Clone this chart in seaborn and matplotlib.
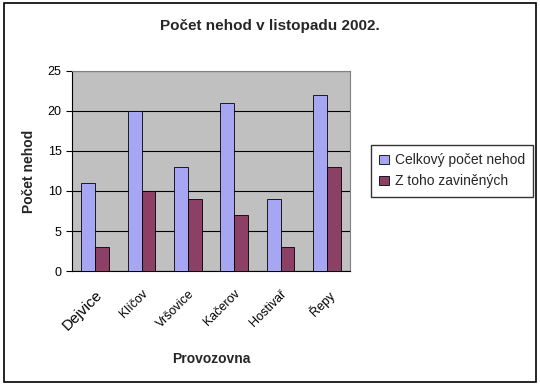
import matplotlib
matplotlib.use('Agg')
import matplotlib.pyplot as plt
import pandas as pd
import seaborn as sns
from matplotlib.patches import Rectangle

# data
provozovny = ['Dejvice', 'Klíčov', 'Vršovice', 'Kačerov', 'Hostivař', 'Řepy']
celkem = [11, 20, 13, 21, 9, 22]
zavinenych = [3, 10, 9, 7, 3, 13]
serie = ['Celkový počet nehod', 'Z toho zaviněných']

df = pd.DataFrame({
    'Provozovna': provozovny * 2,
    'Počet': celkem + zavinenych,
    'Série': [serie[0]] * 6 + [serie[1]] * 6,
})

sns.set_style('white')
plt.rcParams['font.family'] = ['Liberation Sans', 'DejaVu Sans']

fig = plt.figure(figsize=(5.4, 3.85), dpi=100)
fig.patches.append(Rectangle((0.008, 0.008), 0.984, 0.984, transform=fig.transFigure,
                             fill=False, edgecolor='black', linewidth=1.2))
ax = fig.add_axes([0.1333, 0.296, 0.515, 0.52])
ax.set_facecolor('#C0C0C0')

sns.barplot(data=df, x='Provozovna', y='Počet', hue='Série',
            palette=['#9999FF', '#993366'], width=0.6, edgecolor='black',
            linewidth=0.6, ax=ax, zorder=3)

ax.set_ylim(0, 25)
ax.set_yticks(range(0, 26, 5))
ax.yaxis.grid(True, color='black', linewidth=0.8, zorder=0)
ax.set_axisbelow(True)
for s in ['top', 'right']:
    ax.spines[s].set_color('#808080')
for s in ['left', 'bottom']:
    ax.spines[s].set_color('black')
ax.tick_params(axis='both', direction='out', length=4, width=0.8, colors='black',
               labelsize=9, left=True, bottom=True)
ax.set_xticks([i - 0.5 for i in range(7)], minor=True)
ax.tick_params(axis='x', which='major', length=0, pad=12)
ax.tick_params(axis='x', which='minor', length=4, width=0.8)
ax.set_xticks(range(6))
ax.set_xticklabels(provozovny, rotation=45, ha='right', rotation_mode='anchor')
ax.get_xticklabels()[0].set_fontsize(11)

ax.set_xlabel('Provozovna', fontsize=10, fontweight='bold', labelpad=14)
ax.set_ylabel('Počet nehod', fontsize=10, fontweight='bold', labelpad=8)
fig.suptitle('Počet nehod v listopadu 2002.', fontsize=11, fontweight='bold', y=0.95)

ax.legend(loc='center left', bbox_to_anchor=(1.075, 0.5), frameon=True, fancybox=False,
          edgecolor='black', fontsize=10, handlelength=0.7, handleheight=0.7,
          handletextpad=0.4, borderaxespad=0, borderpad=0.6)

fig.savefig('out.png', dpi=100)
